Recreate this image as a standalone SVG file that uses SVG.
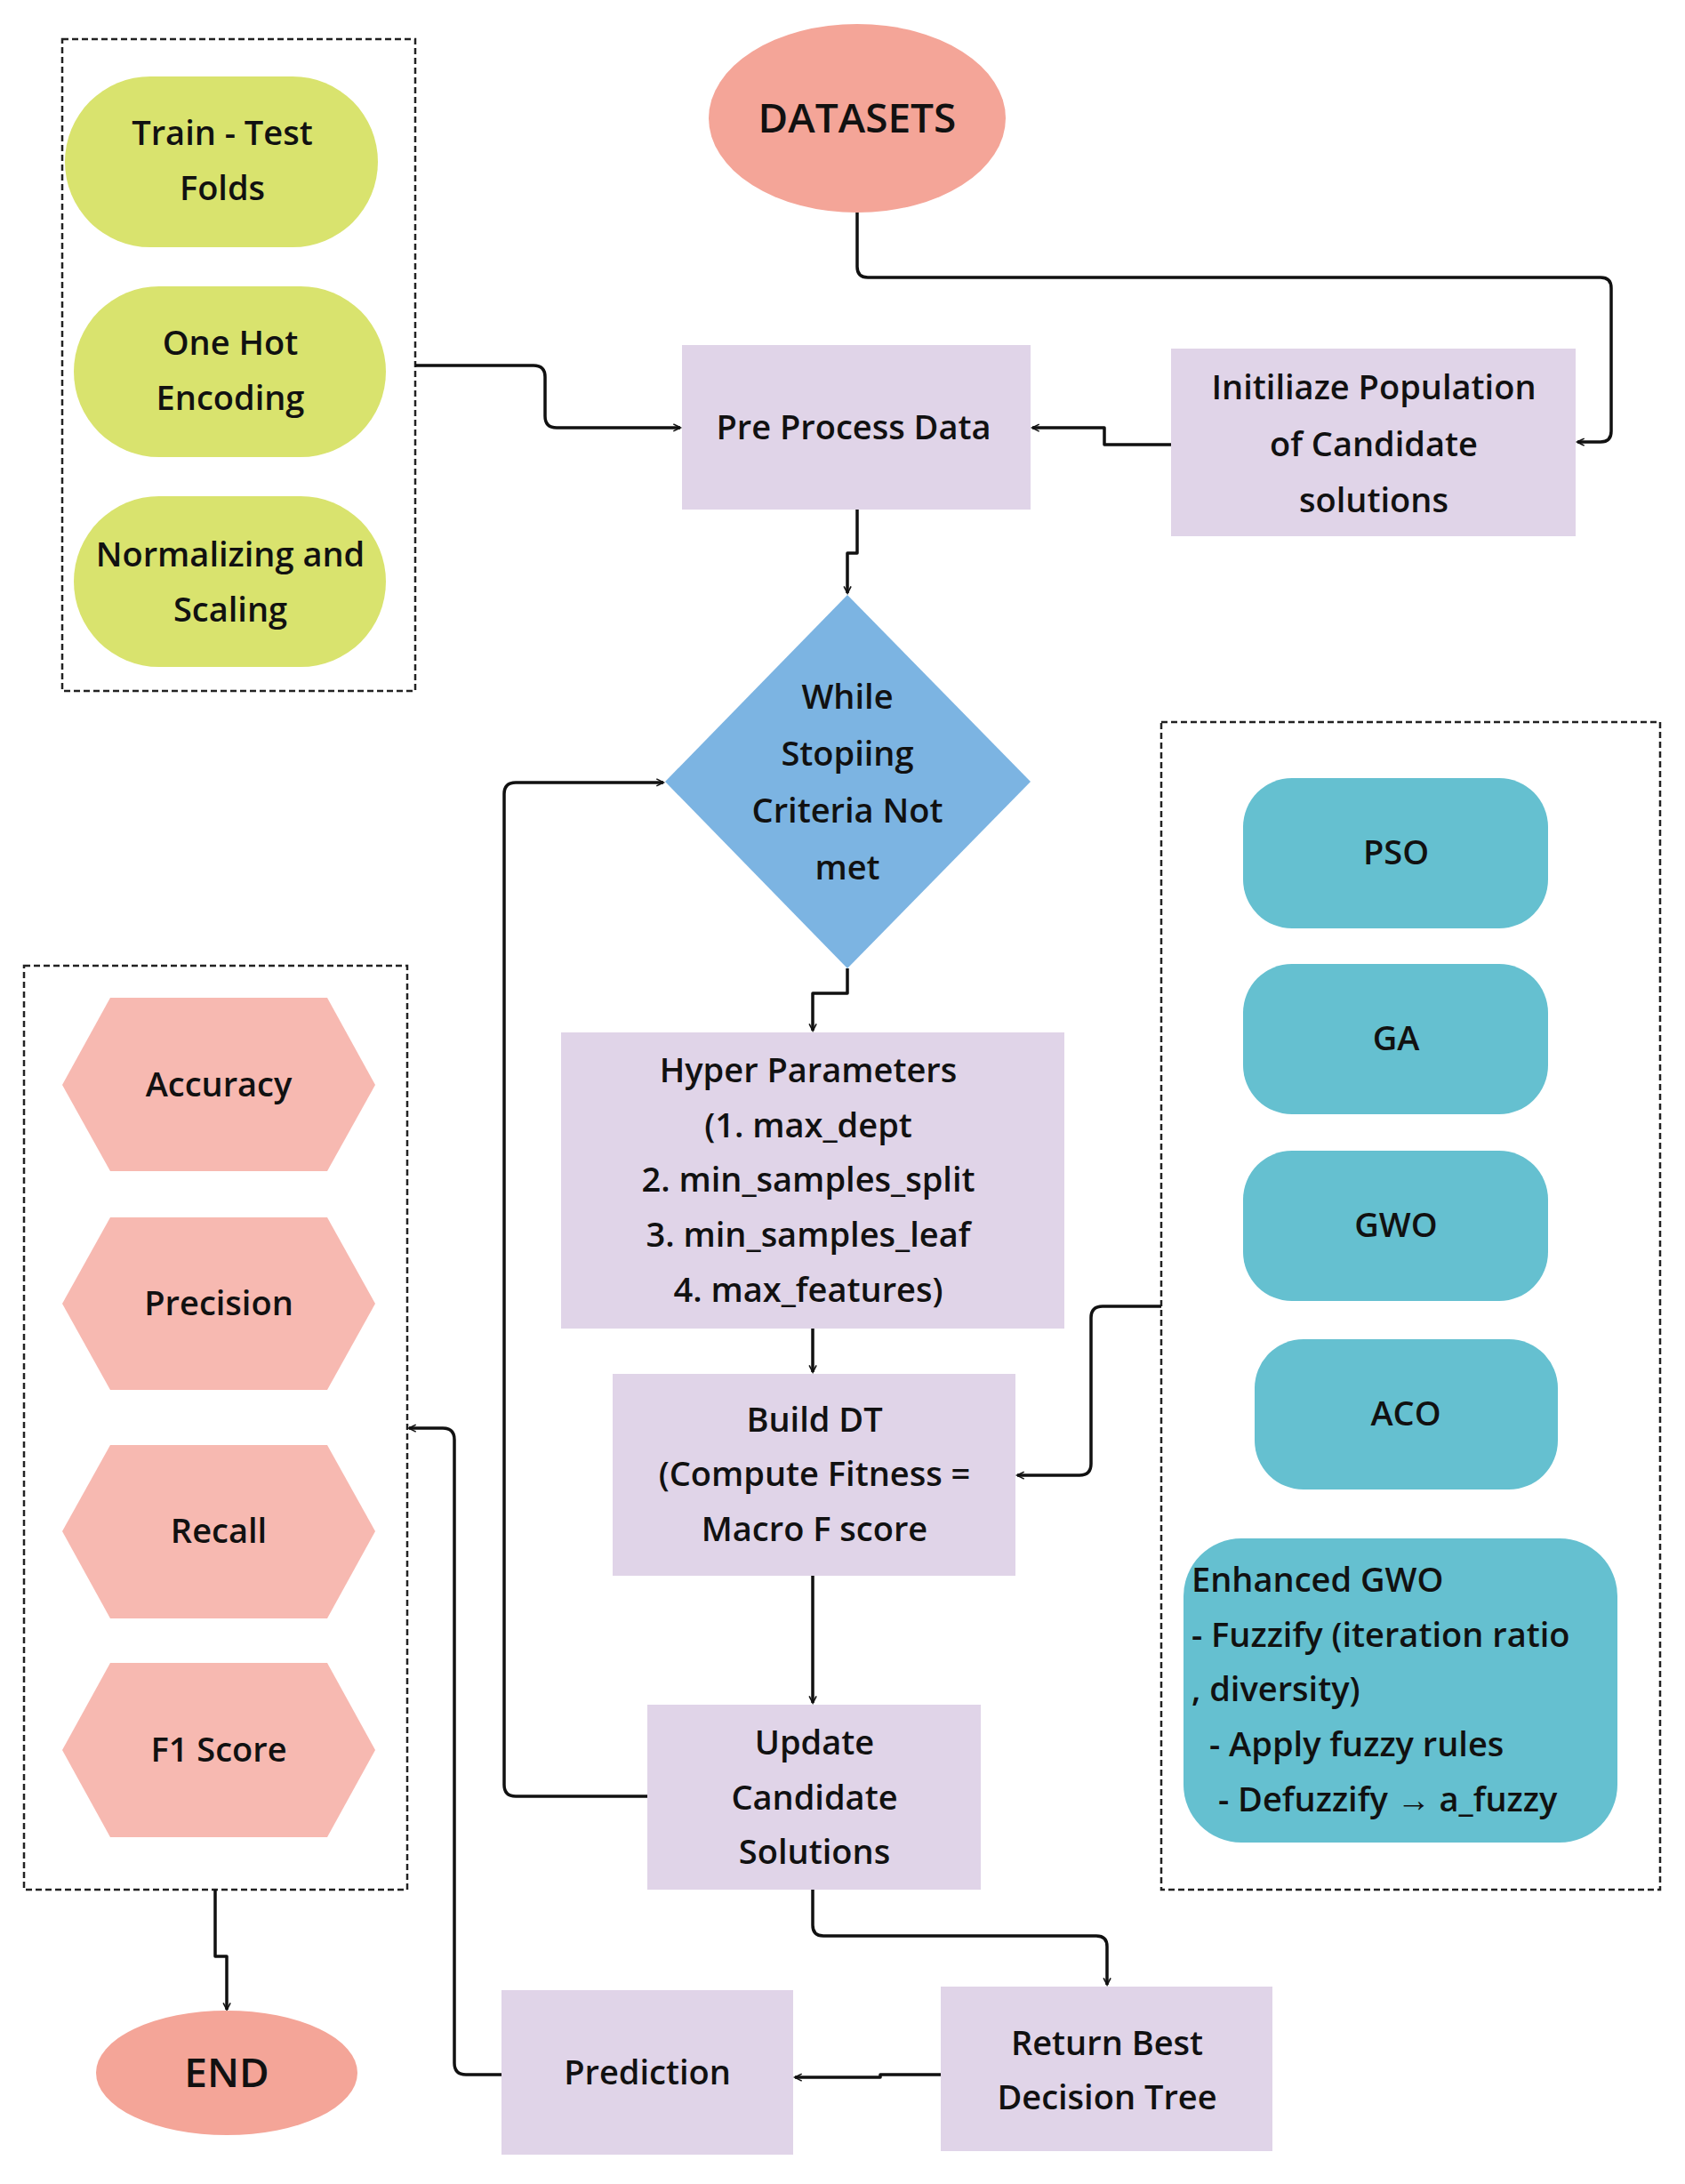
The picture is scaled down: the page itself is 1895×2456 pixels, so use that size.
<svg xmlns="http://www.w3.org/2000/svg" width="1895" height="2456" viewBox="0 0 1895 2456">
<style>
text{font-family:"Open Sans","Liberation Sans",sans-serif;font-weight:600;font-size:38px;fill:#111;text-anchor:middle}
.dash{fill:none;stroke:#222;stroke-width:2.5;stroke-dasharray:7 4}
.g{fill:#d9e36e}.l{fill:#e0d4e8}.t{fill:#65c0d0}.h{fill:#f7b9b1}
.c{fill:none;stroke:#111;stroke-width:3.5;stroke-linejoin:round;marker-end:url(#a)}
</style>
<defs><marker id="a" viewBox="0 0 10 10" refX="9" refY="5" markerWidth="5" markerHeight="5" orient="auto" markerUnits="userSpaceOnUse" overflow="visible"><path d="M0,0 L10,5 L0,10" fill="none" stroke="#111" stroke-width="2" transform="scale(1.6) translate(-4,-2)"/></marker></defs>
<rect width="1895" height="2456" fill="#fff"/>
<rect class="dash" x="70" y="44" width="397" height="733"/>
<rect class="dash" x="1306" y="812" width="561" height="1313"/>
<rect class="dash" x="27" y="1086" width="431" height="1039"/>
<g id="connectors">
<path class="c" d="M964,239 V300 Q964,312 976,312 H1800 Q1812,312 1812,324 V485 Q1812,497 1800,497 H1774"/>
<path class="c" d="M1317,500 H1242 V481 H1161"/>
<path class="c" d="M467,411 H600 Q613,411 613,424 V468 Q613,481 626,481 H765"/>
<path class="c" d="M964,573 V622 H953 V667"/>
<path class="c" d="M953,1089 V1117 H914 V1159"/>
<path class="c" d="M914,1494 V1543"/>
<path class="c" d="M914,1772 V1915"/>
<path class="c" d="M728,2020 H580 Q567,2020 567,2007 V893 Q567,880 580,880 H746"/>
<path class="c" d="M1306,1469 H1240 Q1227,1469 1227,1482 V1646 Q1227,1659 1214,1659 H1144"/>
<path class="c" d="M914,2125 V2165 Q914,2177 926,2177 H1233 Q1245,2177 1245,2189 V2232"/>
<path class="c" d="M1058,2333 H990 V2336 H894"/>
<path class="c" d="M564,2333 H524 Q511,2333 511,2320 V1619 Q511,1606 498,1606 H460"/>
<path class="c" d="M242,2125 V2200 H255 V2260"/>
</g>
<g id="train"><rect class="g" x="73" y="86" width="352" height="192" rx="96"/><text x="250" y="163">Train - Test</text><text x="250" y="225">Folds</text></g>
<g id="onehot"><rect class="g" x="83" y="322" width="351" height="192" rx="96"/><text x="259" y="399">One Hot</text><text x="259" y="461">Encoding</text></g>
<g id="norm"><rect class="g" x="83" y="558" width="351" height="192" rx="96"/><text x="259" y="637">Normalizing and</text><text x="259" y="699">Scaling</text></g>
<g id="datasets"><ellipse cx="964" cy="133" rx="167" ry="106" fill="#f4a598"/><text x="964" y="149" style="font-size:46px">DATASETS</text></g>
<g id="pre"><rect class="l" x="767" y="388" width="392" height="185"/><text x="960" y="494">Pre Process Data</text></g>
<g id="init"><rect class="l" x="1317" y="392" width="455" height="211"/><text x="1545" y="449">Initiliaze  Population</text><text x="1545" y="513">of Candidate</text><text x="1545" y="576">solutions</text></g>
<g id="while"><polygon points="953,669 1159,879 953,1089 748,879" fill="#7cb4e2"/><text x="953" y="797">While</text><text x="953" y="861">Stopiing</text><text x="953" y="925">Criteria Not</text><text x="953" y="989">met</text></g>
<g id="pso"><rect class="t" x="1398" y="875" width="343" height="169" rx="55"/><text x="1570" y="972">PSO</text></g>
<g id="ga"><rect class="t" x="1398" y="1084" width="343" height="169" rx="55"/><text x="1570" y="1181">GA</text></g>
<g id="gwo"><rect class="t" x="1398" y="1294" width="343" height="169" rx="55"/><text x="1570" y="1391">GWO</text></g>
<g id="aco"><rect class="t" x="1411" y="1506" width="341" height="169" rx="55"/><text x="1581" y="1603">ACO</text></g>
<g id="egwo"><rect class="t" x="1331" y="1730" width="488" height="342" rx="65"/>
<text x="1340" y="1790" style="text-anchor:start">Enhanced GWO</text>
<text x="1340" y="1852" style="text-anchor:start">- Fuzzify (iteration ratio</text>
<text x="1340" y="1913" style="text-anchor:start">, diversity)</text>
<text x="1360" y="1975" style="text-anchor:start">- Apply fuzzy rules</text>
<text x="1370" y="2037" style="text-anchor:start">- Defuzzify → a_fuzzy</text></g>
<g id="acc"><polygon class="h" points="70,1220 124,1122 368,1122 422,1220 368,1317 124,1317"/><text x="246" y="1233">Accuracy</text></g>
<g id="prec"><polygon class="h" points="70,1466 124,1369 368,1369 422,1466 368,1563 124,1563"/><text x="246" y="1479">Precision</text></g>
<g id="rec"><polygon class="h" points="70,1722 124,1625 368,1625 422,1722 368,1820 124,1820"/><text x="246" y="1735">Recall</text></g>
<g id="f1"><polygon class="h" points="70,1968 124,1870 368,1870 422,1968 368,2066 124,2066"/><text x="246" y="1981">F1 Score</text></g>
<g id="hyper"><rect class="l" x="631" y="1161" width="566" height="333"/>
<text x="909" y="1217">Hyper Parameters</text><text x="909" y="1279">(1. max_dept</text><text x="909" y="1340">2. min_samples_split</text><text x="909" y="1402">3. min_samples_leaf</text><text x="909" y="1464">4. max_features)</text></g>
<g id="build"><rect class="l" x="689" y="1545" width="453" height="227"/><text x="916" y="1610">Build DT</text><text x="916" y="1671">(Compute Fitness =</text><text x="916" y="1733">Macro F score</text></g>
<g id="update"><rect class="l" x="728" y="1917" width="375" height="208"/><text x="916" y="1973">Update</text><text x="916" y="2035">Candidate</text><text x="916" y="2096">Solutions</text></g>
<g id="ret"><rect class="l" x="1058" y="2234" width="373" height="185"/><text x="1245" y="2311">Return Best</text><text x="1245" y="2372">Decision Tree</text></g>
<g id="pred"><rect class="l" x="564" y="2238" width="328" height="185"/><text x="728" y="2344">Prediction</text></g>
<g id="end"><ellipse cx="255" cy="2331" rx="147" ry="70" fill="#f4a598"/><text x="255" y="2347" style="font-size:46px">END</text></g>
</svg>
